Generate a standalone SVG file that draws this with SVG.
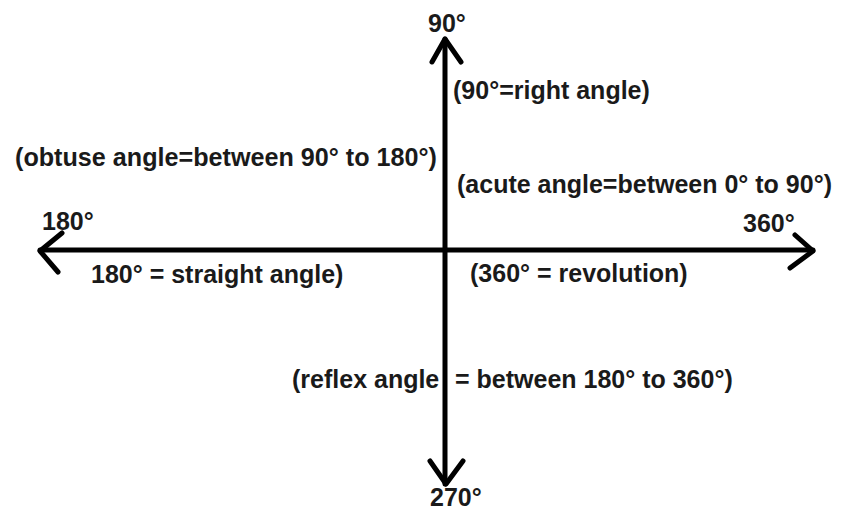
<svg xmlns="http://www.w3.org/2000/svg" width="842" height="511" viewBox="0 0 842 511">
<style>
.t{font-family:"Liberation Sans",Arial,sans-serif;font-weight:bold;font-size:25px;fill:#1a1a1a}
.ax{stroke:#000;stroke-width:5;fill:none;stroke-linecap:round;stroke-linejoin:round}
</style>
<rect width="842" height="511" fill="#fff"/>
<g id="labels">
<text id="l90" class="t" x="428" y="32">90°</text>
<text id="l90r" class="t" x="453" y="99">(90°=right angle)</text>
<text id="lobt" class="t" x="15" y="166" textLength="422" lengthAdjust="spacingAndGlyphs">(obtuse angle=between 90° to 180°)</text>
<text id="lacu" class="t" x="457" y="193">(acute angle=between 0° to 90°)</text>
<text id="l180" class="t" x="42" y="230">180°</text>
<text id="l360" class="t" x="743" y="232">360°</text>
<text id="lstr" class="t" x="91" y="283">180° = straight angle)</text>
<text id="lrev" class="t" x="470" y="282">(360° = revolution)</text>
<text id="lref" class="t" y="388"><tspan x="292">(reflex angle</tspan><tspan x="455">= between 180° to 360°)</tspan></text>
<text id="l270" class="t" x="430" y="506">270°</text>
</g>
<g id="axes">
<path class="ax" d="M445 39 V484"/>
<path class="ax" d="M40 250 H813"/>
<path class="ax" d="M432 62 L445 39 L461 62"/>
<path class="ax" d="M430 461 L446 484 L463 461"/>
<path class="ax" d="M62 233 L40 251 L58 272"/>
<path class="ax" d="M795 235 L813 251 L790 268"/>
</g>
</svg>
